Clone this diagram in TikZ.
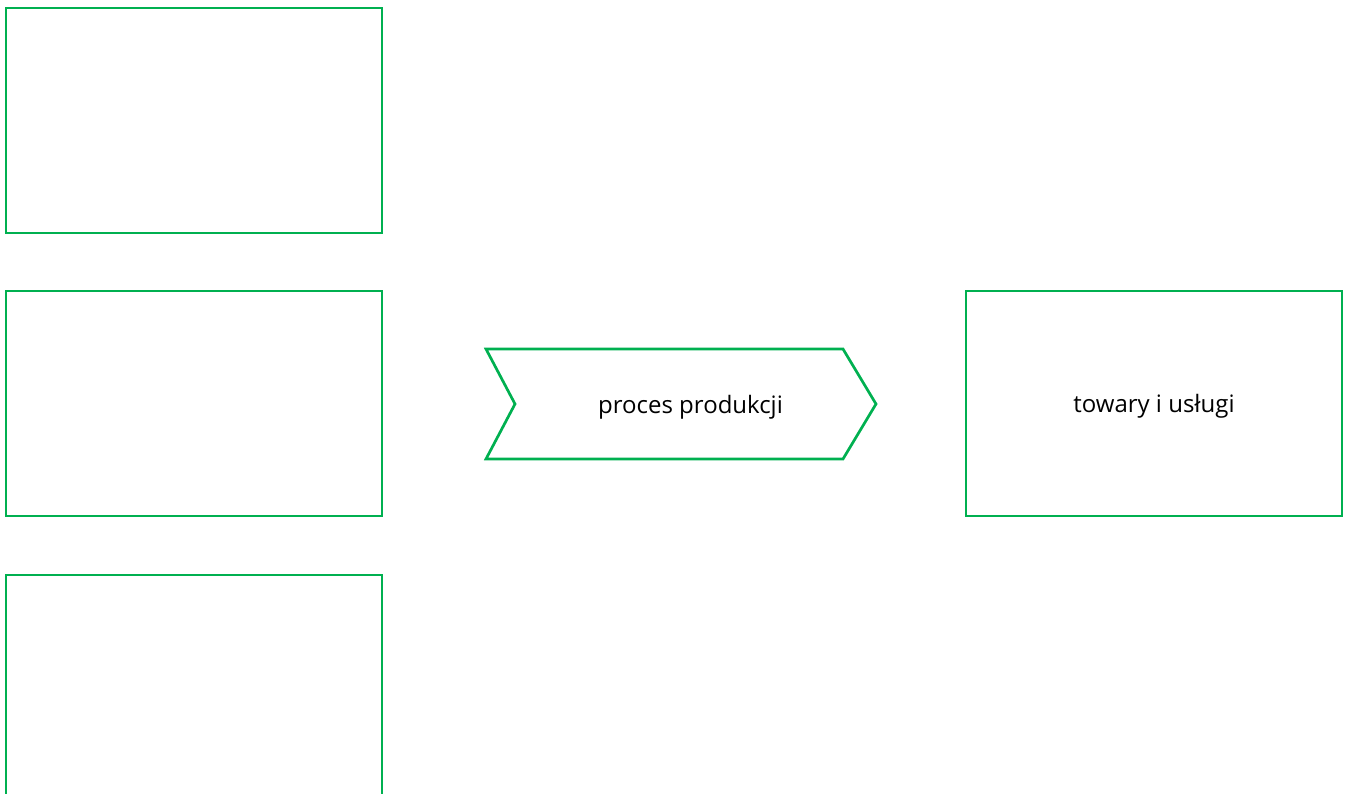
\documentclass[tikz,border=0pt]{standalone}
\usepackage{fontspec}
\setmainfont{Open Sans}
\definecolor{lineGreen}{HTML}{00B050}
\tikzset{
  greenbox/.style={draw=lineGreen, line width=2.7pt, rectangle, minimum width=376pt, minimum height=225pt, inner sep=0pt},
  label/.style={font=\fontsize{24}{28}\selectfont, text=black, inner sep=0pt},
  chevronline/.style={draw=lineGreen, line width=2.7pt, line join=miter}
}
\begin{document}
\begin{tikzpicture}[x=1pt,y=-1pt]
\useasboundingbox (0,0) rectangle (1349,794);
\clip (0,0) rectangle (1349,794);
\node[greenbox] (b1) at (194,120.5) {};
\node[greenbox] (b2) at (194,403.5) {};
\node[greenbox] (b3) at (194,687.5) {};
\node[greenbox] (out) at (1154,403.5) {};
\node[label] at ([yshift=-3pt]out.center) {towary i usługi};
\coordinate (c1) at (486,349);
\coordinate (c2) at (843,349);
\coordinate (c3) at (876,404);
\coordinate (c4) at (843,459);
\coordinate (c5) at (486,459);
\coordinate (c6) at (515,404);
\draw[chevronline] (c1) -- (c2) -- (c3) -- (c4) -- (c5) -- (c6) -- cycle;
\node[label] (proc) at (690.5,407) {proces produkcji};
\end{tikzpicture}
\end{document}
